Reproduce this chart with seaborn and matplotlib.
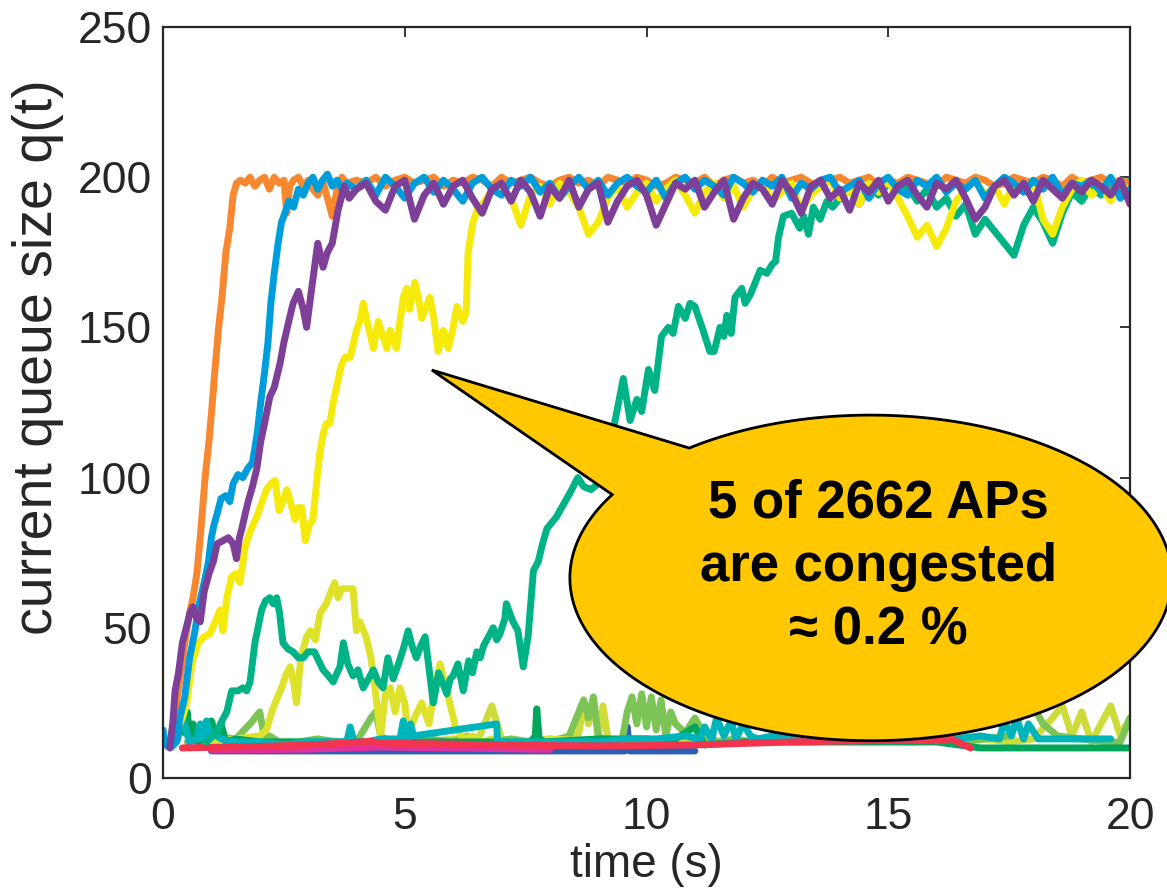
"""Queue size over time for congested APs, with a callout bubble."""

import matplotlib
matplotlib.use("Agg")
import matplotlib.pyplot as plt
from matplotlib.patches import Polygon
import numpy as np
import pandas as pd
import seaborn as sns

# ---- data (time in s, queue size in packets) ----
T_TOP = np.round(np.arange(4.0, 20.0 + 1e-9, 0.2), 2)      # sample grid of the saturated part
T_YEL = np.round(np.arange(7.0, 20.0 + 1e-9, 0.2), 2)
T_GRN = np.round(np.arange(14.0, 20.0 + 1e-9, 0.2), 2)

ORANGE_T = [0.15, 0.25, 0.35, 0.45, 0.55, 0.62, 0.7, 0.78, 0.87, 0.95, 1.02, 1.08, 1.15, 1.22,
            1.3, 1.38, 1.45, 1.52, 1.6, 1.7, 1.8, 1.9, 2.0, 2.1, 2.2, 2.3, 2.4, 2.5, 2.56, 2.62,
            2.7, 2.8, 2.9, 3.0, 3.1, 3.2, 3.3, 3.4, 3.5, 3.6, 3.7, 3.8]
ORANGE_Q = [12, 22, 33, 45, 55, 60, 68, 82, 100, 112, 125, 137, 150, 160,
            175, 183, 194, 198, 199, 198, 200, 197, 199, 200, 196, 200, 198, 199, 188, 197,
            199, 200, 197, 199, 196, 194, 199, 193, 187, 196, 200, 198]
ORANGE_TOP = [199, 198, 200, 197, 199, 200, 198, 199, 200, 197, 199, 198, 200, 199, 197, 200, 198, 199, 200, 198,
              197, 199, 200, 198, 199, 197, 200, 199, 198, 200, 199, 197, 198, 200, 199, 198, 200, 197, 199, 200,
              198, 199, 197, 200, 198, 199, 200, 198, 197, 199, 200, 198, 199, 200, 197, 199, 198, 200, 199, 198,
              197, 200, 199, 198, 200, 199, 197, 198, 200, 199, 198, 200, 199, 197, 200, 198, 199, 200, 198, 199,
              198]

BLUE_T = [0.0, 0.05, 0.15, 0.28, 0.35, 0.45, 0.55, 0.66, 0.75, 0.85, 0.94, 1.0, 1.05, 1.12, 1.2,
          1.3, 1.38, 1.45, 1.55, 1.65, 1.75, 1.85, 1.95, 2.02, 2.1, 2.17, 2.23, 2.3, 2.38, 2.45,
          2.52, 2.6, 2.7, 2.8, 2.9, 3.0, 3.1, 3.2, 3.3, 3.4, 3.5, 3.6, 3.7, 3.8]
BLUE_Q = [16, 11, 10, 12, 20, 27, 40, 49, 58, 65, 72, 80, 84, 88, 93,
          94, 92, 98, 101, 100, 103, 105, 115, 125, 135, 145, 158, 168, 178, 185,
          188, 192, 190, 196, 194, 198, 200, 196, 199, 201, 197, 199, 196, 198]
BLUE_TOP = [196, 199, 194, 200, 197, 193, 198, 200, 195, 199, 196, 192, 198, 200, 196, 194, 199, 197, 200, 195,
            198, 193, 197, 200, 196, 199, 194, 198, 200, 197, 195, 199, 193, 198, 200, 196, 199, 197, 194, 200,
            198, 195, 199, 197, 200, 193, 198, 196, 199, 200, 195, 197, 199, 193, 198, 200, 196, 194, 199, 197,
            200, 195, 198, 196, 199, 193, 197, 200, 198, 195, 199, 196, 200, 194, 198, 197, 199, 195, 200, 193,
            196]

PURPLE_T = [0.14, 0.2, 0.25, 0.32, 0.4, 0.48, 0.56, 0.62, 0.7, 0.77, 0.85, 0.95, 1.04, 1.12, 1.24,
            1.35, 1.45, 1.52, 1.58, 1.63, 1.7, 1.76, 1.85, 1.94, 2.02, 2.1, 2.21, 2.3, 2.42, 2.5,
            2.6, 2.69, 2.8, 2.9, 2.97, 3.05, 3.1, 3.2, 3.31, 3.4, 3.5, 3.62, 3.75, 3.85]
PURPLE_Q = [10, 18, 29, 35, 45, 50, 55, 57, 53, 52, 62, 68, 72, 78, 79,
            80, 78, 73, 80, 83, 88, 92, 97, 103, 112, 118, 127, 130, 138, 145,
            152, 158, 162, 156, 150, 160, 166, 178, 170, 175, 178, 189, 197, 193]
PURPLE_TOP = [196, 198, 192, 189, 197, 199, 186, 194, 198, 191, 197, 199, 193, 188, 196, 198, 192, 199, 195, 187,
              197, 193, 199, 190, 196, 198, 185, 192, 197, 199, 194, 184, 191, 198, 196, 199, 190, 195, 199, 186,
              193, 198, 196, 191, 199, 195, 188, 197, 199, 193, 196, 189, 198, 195, 199, 192, 197, 199, 194, 190,
              198, 196, 199, 193, 186, 190, 197, 199, 194, 198, 192, 199, 196, 193, 198, 195, 199, 197, 194, 199,
              191]

YELLOW_T = [0.29, 0.4, 0.49, 0.6, 0.73, 0.85, 0.97, 1.08, 1.18, 1.24, 1.32, 1.42, 1.5, 1.59, 1.7,
            1.8, 1.94, 2.05, 2.14, 2.23, 2.32, 2.4, 2.48, 2.56, 2.65, 2.73, 2.8, 2.87, 2.94, 3.02,
            3.1, 3.2, 3.25, 3.32, 3.38, 3.45, 3.52, 3.6, 3.68, 3.76, 3.87, 4.0, 4.07, 4.14, 4.25,
            4.35, 4.45, 4.55, 4.63, 4.7, 4.77, 4.83, 4.9, 4.97, 5.04, 5.1, 5.21, 5.28, 5.35, 5.45,
            5.52, 5.6, 5.69, 5.75, 5.8, 5.9, 6.0, 6.08, 6.2, 6.27, 6.31, 6.41, 6.52, 6.6, 6.7, 6.8]
YELLOW_Q = [16, 20, 25, 38, 45, 47, 48, 52, 56, 49, 60, 67, 68, 65, 77,
            82, 87, 92, 96, 98, 99, 89, 92, 96, 91, 86, 90, 90, 79, 84,
            86, 102, 109, 115, 118, 118, 125, 131, 137, 140, 140, 149, 152, 158, 150,
            143, 152, 147, 143, 149, 146, 143, 152, 160, 163, 156, 165, 160, 153, 157,
            160, 153, 142, 146, 149, 143, 150, 157, 152, 155, 175, 185, 190, 191, 193, 196]
YELLOW_TOP = [196, 193, 184, 194, 197, 191, 198, 195, 190, 181, 185, 193, 197, 190, 195, 198, 192, 196, 199, 194,
              188, 195, 198, 193, 197, 190, 196, 199, 192, 195, 198, 189, 194, 197, 199, 193, 196, 191, 198, 195,
              199, 193, 187, 180, 184, 177, 183, 192, 196, 199, 194, 197, 191, 198, 195, 199, 186, 181, 190, 196,
              199, 194, 197, 192, 198, 195]

GREEN_T = [0.9, 1.1, 1.25, 1.32, 1.42, 1.55, 1.65, 1.73, 1.8, 1.9, 2.04, 2.12, 2.21, 2.28, 2.35,
           2.41, 2.48, 2.58, 2.69, 2.8, 2.9, 3.0, 3.13, 3.22, 3.31, 3.42, 3.52, 3.6, 3.66, 3.73,
           3.82, 3.93, 4.03, 4.14, 4.25, 4.35, 4.45, 4.55, 4.65, 4.76, 4.87, 4.97, 5.07, 5.15, 5.24,
           5.33, 5.42, 5.52, 5.59, 5.7, 5.8, 5.87, 5.94, 6.0, 6.1, 6.21, 6.32, 6.4, 6.49, 6.56,
           6.63, 6.73, 6.83, 6.9, 6.97, 7.07, 7.1, 7.17, 7.24, 7.34, 7.45, 7.55, 7.66, 7.76, 7.85,
           7.94, 8.04, 8.14, 8.28, 8.42, 8.58, 8.7, 8.85, 9.0, 9.2, 9.35, 9.52, 9.66, 9.8, 9.9,
           10.04, 10.17, 10.31, 10.45, 10.55, 10.66, 10.8, 10.9, 11.0, 11.17, 11.31, 11.4, 11.52, 11.6, 11.66,
           11.75, 11.83, 11.97, 12.04, 12.15, 12.25, 12.35, 12.49, 12.6, 12.67, 12.73, 12.83, 13.0, 13.17, 13.25,
           13.35, 13.45, 13.59, 13.73, 13.85]
GREEN_Q = [12, 15, 20, 22, 29, 29, 30, 29, 32, 45, 56, 59, 60, 58, 60,
           55, 45, 43, 42, 40, 40, 42, 42, 39, 36, 34, 32, 35, 37, 45,
           38, 34, 36, 30, 33, 36, 32, 30, 40, 33, 38, 43, 49, 44, 40,
           44, 47, 34, 25, 35, 31, 28, 33, 34, 38, 29, 39, 35, 42, 40,
           44, 47, 50, 46, 48, 53, 58, 55, 52, 49, 37, 47, 69, 72, 78,
           83, 85, 87, 91, 95, 100, 97, 96, 98, 105, 119, 133, 119, 126, 122,
           136, 129, 147, 150, 148, 157, 153, 158, 157, 149, 142, 142, 150, 147, 154,
           148, 160, 163, 158, 161, 165, 169, 168, 171, 172, 180, 187, 188, 183, 187,
           181, 190, 186, 192, 190]
GREEN_TOP = [193, 196, 191, 197, 194, 198, 195, 197, 192, 196, 190, 193, 187, 191, 181, 186, 182, 178,
             174, 184, 190, 185, 178, 188, 195, 192, 197, 194, 198, 196, 199]

LIME_T = [1.0, 1.5, 2.0, 2.14, 2.25, 2.32, 2.45, 2.56, 2.63, 2.7, 2.76, 2.85, 2.97, 3.05, 3.15,
          3.25, 3.38, 3.47, 3.55, 3.62, 3.7, 3.8, 3.93, 4.0, 4.07, 4.2, 4.3, 4.35, 4.42, 4.5,
          4.6, 4.7, 4.8, 4.9, 5.0, 5.07, 5.2, 5.35, 5.5, 5.62, 5.73, 5.82, 5.93, 6.05, 6.2,
          6.4, 6.6, 6.8, 7.0, 7.5, 8.0, 9.0, 10.0]
LIME_Q = [12, 13, 14, 16, 22, 25, 30, 35, 37, 32, 25, 40, 47, 49, 46,
          55, 58, 62, 65, 60, 63, 63, 63, 49, 52, 47, 40, 34, 25, 14,
          28, 30, 22, 30, 25, 14, 20, 25, 18, 30, 38, 32, 25, 17, 13,
          14, 12, 13, 12, 12, 13, 12, 12]

OLIVE_T = [5.5, 6.0, 6.5, 6.8, 7.0, 7.5, 8.0, 8.3, 8.6, 8.7, 8.8, 8.9, 9.0, 9.1, 9.2, 9.3, 9.5, 10, 11,
           12, 12.5, 13, 14, 15, 16, 17, 17.5, 18.0, 18.4, 18.6, 18.8, 19.0, 19.2, 19.4, 19.6, 19.8, 20.0]
OLIVE_Q = [12, 13, 12, 24, 13, 12, 13, 12, 15, 25, 18, 26, 14, 24, 13, 12, 12, 12, 12,
           12, 13, 12, 12, 12, 12, 13, 12, 13, 20, 24, 14, 22, 12, 18, 24, 14, 20]

LGREEN_T = [0.5, 1.0, 1.5, 1.8, 2.0, 2.1, 2.2, 2.4, 2.8, 3.2, 3.6, 4.0, 4.3, 4.4, 4.5, 4.7, 5.0, 5.5,
            6.0, 6.3, 6.5, 6.8, 7.2, 7.6, 8.0, 8.4, 8.6, 8.7, 8.8, 8.9, 9.0, 9.2, 9.5, 9.6, 9.7, 9.8,
            9.9, 10.0, 10.1, 10.2, 10.3, 10.4, 10.5, 10.6, 10.8, 11.0, 11.2, 11.5, 11.8, 12.2, 12.6, 13.0,
            13.5, 14.0, 14.5, 15.0, 15.5, 16.0, 16.5, 17.0, 17.5, 17.8, 18.0, 18.2, 18.5, 19.0, 19.5, 19.8, 20.0]
LGREEN_Q = [12, 14, 13, 18, 22, 13, 14, 12, 12, 13, 12, 12, 20, 22, 14, 12, 12, 13,
            12, 14, 12, 12, 13, 12, 12, 14, 22, 26, 20, 27, 14, 12, 13, 22, 27, 18,
            28, 17, 27, 16, 26, 14, 22, 18, 15, 20, 14, 12, 13, 12, 13, 12,
            12, 13, 12, 14, 12, 13, 12, 13, 14, 22, 24, 18, 14, 13, 12, 12, 20]

CYAN_T = [0.2, 0.4, 0.55, 0.7, 0.77, 0.83, 0.9, 0.97, 1.04, 1.2, 1.5, 2.0, 2.5, 3.0, 3.5, 3.8, 3.87,
          3.95, 4.2, 4.5, 4.9, 4.97, 5.05, 5.12, 5.18, 6.9, 6.92, 7.5, 8.0, 9.0, 9.6, 10.2, 10.8,
          11.1, 11.2, 11.35, 11.45, 11.6, 11.75, 11.85, 12.0, 12.15, 12.3, 12.6, 13.5, 14.5, 15.5,
          16.4, 16.9, 17.3, 17.4, 17.55, 17.65, 17.8, 17.9, 18.1, 18.3, 19.0, 19.6]
CYAN_Q = [12, 20, 12, 13, 18, 13, 19, 13, 15, 13, 12, 12, 11, 12, 12, 12, 17,
          12, 12, 13, 13, 19, 13, 18, 14, 18, 12, 12, 12, 12, 13, 13, 14,
          13, 17, 13, 20, 14, 19, 13, 18, 14, 13, 14, 13, 13, 14,
          13, 14, 13, 19, 14, 20, 13, 18, 13, 13, 13, 13]

DGREEN_T = [0.2, 0.3, 0.4, 0.45, 0.5, 0.55, 0.62, 0.7, 0.9, 1.0, 1.1, 1.2, 1.3, 1.5, 2.0, 3.0, 4.0,
            5.0, 6.0, 7.0, 7.6, 7.7, 7.73, 7.78, 7.9, 9.0, 9.5, 10.0, 10.5, 11.0, 11.2, 12.0, 13.0,
            14.0, 15.0, 16.0, 16.9, 18.0, 19.0, 20.0]
DGREEN_Q = [11, 13, 20, 15, 22, 14, 18, 12, 13, 19, 14, 18, 12, 13, 12, 12, 12,
            12, 12, 12, 12, 14, 23, 13, 12, 13, 13, 13, 12, 17, 11, 12, 12,
            12, 12, 12, 10, 10, 10, 10]

RED_T = [0.4, 1.0, 2.0, 3.0, 3.6, 4.1, 4.3, 4.5, 5.0, 6.0, 7.0, 8.0, 9.0, 10.0, 11.0, 12.0, 13.0,
         14.0, 15.0, 16.0, 16.3, 16.7]
RED_Q = [10, 10.2, 10.5, 11, 11.5, 12, 12.2, 11.6, 11.5, 11.3, 11, 10.8, 10.7, 10.8, 11, 11.5, 12,
         12.3, 12.5, 12.4, 13, 10]

MAGENTA_T = [1.0, 3.0, 4.5, 6.0, 8.0]
MAGENTA_Q = [9.3, 9.6, 10.3, 10.0, 9.5]

NAVY_T = [1.0, 6.0, 9.55, 9.6, 9.65, 11.0]
NAVY_Q = [9, 9, 9, 17, 9, 9]

# draw order (later on top) and colours
SERIES = [
    ("navy", NAVY_T, NAVY_Q, "#2F5FB3"),
    ("magenta", MAGENTA_T, MAGENTA_Q, "#E2319A"),
    ("olive", OLIVE_T, OLIVE_Q, "#CDDC3A"),
    ("lightgreen", LGREEN_T, LGREEN_Q, "#7DC456"),
    ("lime", LIME_T, LIME_Q, "#DFE22B"),
    ("darkgreen", DGREEN_T, DGREEN_Q, "#00A65A"),
    ("cyan", CYAN_T, CYAN_Q, "#00B4BB"),
    ("red", RED_T, RED_Q, "#F2344F"),
    ("green", GREEN_T + list(T_GRN), GREEN_Q + GREEN_TOP, "#00B386"),
    ("orange", ORANGE_T + list(T_TOP), ORANGE_Q + ORANGE_TOP, "#F7882F"),
    ("yellow", YELLOW_T + list(T_YEL), YELLOW_Q + YELLOW_TOP, "#F6EA0A"),
    ("blue", BLUE_T + list(T_TOP), BLUE_Q + BLUE_TOP, "#009DDC"),
    ("purple", PURPLE_T + list(T_TOP), PURPLE_Q + PURPLE_TOP, "#7D3F98"),
]

CALLOUT_TEXT = "5 of 2662 APs\nare congested\n\u2248 0.2 %"

df = pd.concat(
    [pd.DataFrame({"t": t, "q": q, "series": name}) for name, t, q, _ in SERIES],
    ignore_index=True,
)
order = [s[0] for s in SERIES]
palette = {s[0]: s[3] for s in SERIES}

sns.set_style("white")
plt.rcParams["font.family"] = ["Liberation Sans", "DejaVu Sans"]

fig = plt.figure(figsize=(11.67, 8.88), dpi=100)
ax = fig.add_axes([0.1397, 0.1239, 0.8286, 0.8457])

sns.lineplot(data=df, x="t", y="q", hue="series", hue_order=order, palette=palette,
             estimator=None, sort=False, linewidth=5.0, legend=False, ax=ax,
             solid_joinstyle="round", solid_capstyle="round")

ax.set_xlim(0, 20)
ax.set_ylim(0, 250)
ax.set_xticks([0, 5, 10, 15, 20])
ax.set_yticks([0, 50, 100, 150, 200, 250])
ax.tick_params(direction="in", length=7, width=1.3, labelsize=32, colors="#262626",
               top=True, right=True)
ax.tick_params(axis="x", pad=14)
ax.tick_params(axis="y", pad=8)
for sp in ax.spines.values():
    sp.set_linewidth(1.6)
    sp.set_color("#262626")
    sp.set_visible(True)
ax.set_xlabel("time (s)", fontsize=33, color="#262626")
ax.set_ylabel("current queue size q(t)", fontsize=40, color="#262626")
ax.xaxis.set_label_coords(0.5, -0.086)
ax.yaxis.set_label_coords(-0.102, 0.56)

# speech-bubble callout: ellipse plus pointer, one outline
cx, cy, a, b = 14.64, 66.6, 6.225, 54.2
tip = (5.56, 135.8)
th1 = np.arctan2((110.8 - cy) / b, (10.8 - cx) / a)
th2 = np.arctan2((94.8 - cy) / b, (9.2 - cx) / a) - 2 * np.pi
th = np.linspace(th1, th2, 400)
xs = np.r_[tip[0], cx + a * np.cos(th)]
ys = np.r_[tip[1], cy + b * np.sin(th)]
ax.add_patch(Polygon(np.column_stack([xs, ys]), closed=True, facecolor="#FFC800",
                     edgecolor="black", linewidth=2.0, zorder=10, clip_on=False))
ax.text(14.79, 70.2, CALLOUT_TEXT, ha="center", va="center", fontsize=38,
        fontweight="bold", linespacing=1.35, color="black", zorder=11)

fig.savefig("out.png", dpi=100)
